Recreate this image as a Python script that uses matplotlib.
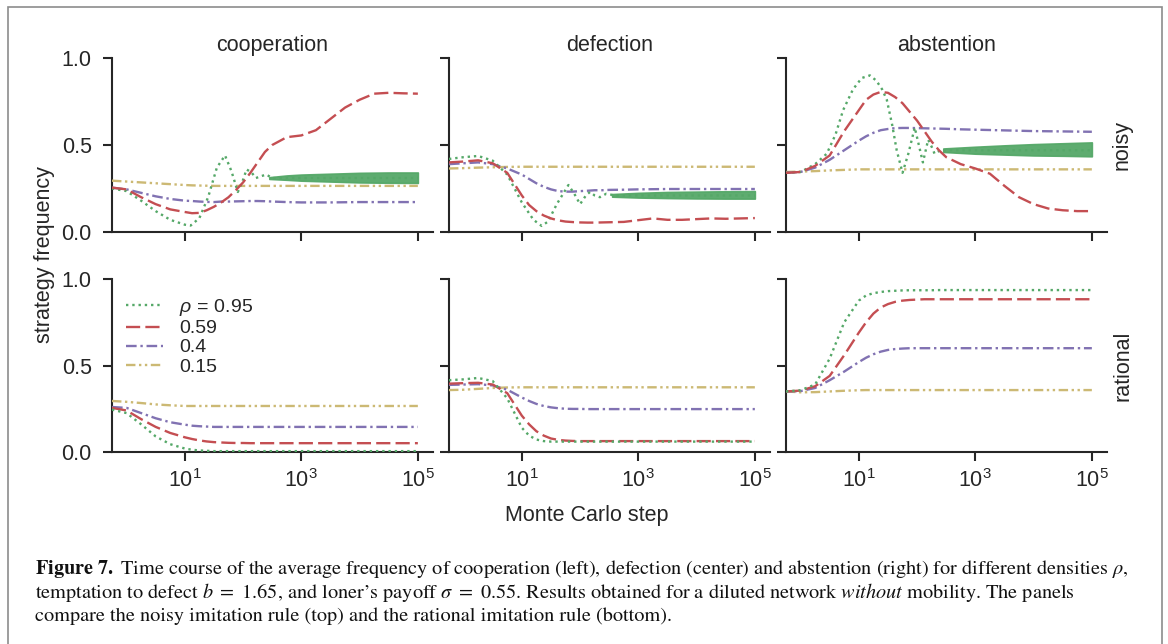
import numpy as np
import matplotlib
matplotlib.use("Agg")
import matplotlib.pyplot as plt
from matplotlib.patches import Rectangle
from matplotlib.ticker import FixedLocator, NullLocator, FuncFormatter

plt.rcParams['font.family'] = ['Liberation Sans', 'DejaVu Sans']
plt.rcParams['mathtext.fontset'] = 'custom'
plt.rcParams['mathtext.rm'] = 'Liberation Sans'
plt.rcParams['mathtext.it'] = 'Liberation Sans:italic'
plt.rcParams['mathtext.bf'] = 'Liberation Sans:bold'

# ---------------- data ----------------
strategies = ['cooperation', 'defection', 'abstention']
rules = ['noisy', 'rational']
legend_labels = [r'$\rho\,=\,0.95$', '0.59', '0.4', '0.15']
x_ticks = [1e1, 1e3, 1e5]
y_ticks = [0.0, 0.5, 1.0]

# common grid of Monte Carlo steps (log10 exponents)
log_step_grid = [-0.25, 0, 0.25, 0.5, 0.75, 1.0, 1.125, 1.25, 1.375, 1.5, 1.625, 1.75,
                 1.875, 2.0, 2.125, 2.25, 2.375, 2.5, 2.75, 3.0, 3.25, 3.5, 3.75, 4.0,
                 4.25, 4.5, 4.75, 5.0]

# ---- noisy imitation ----
coop_noisy_059 = [0.255, 0.245, 0.20, 0.16, 0.13, 0.115, 0.108, 0.11, 0.125, 0.145, 0.17, 0.20,
                  0.24, 0.285, 0.34, 0.40, 0.46, 0.50, 0.545, 0.555, 0.585, 0.65, 0.715, 0.76,
                  0.795, 0.80, 0.797, 0.795]
coop_noisy_040 = [0.255, 0.245, 0.225, 0.205, 0.19, 0.18, 0.178, 0.175, 0.173, 0.172, 0.175, 0.175,
                  0.176, 0.177, 0.178, 0.178, 0.177, 0.175, 0.172, 0.17, 0.17, 0.17, 0.171, 0.172,
                  0.172, 0.172, 0.172, 0.172]
coop_noisy_015 = [0.295, 0.29, 0.285, 0.28, 0.275, 0.27, 0.268, 0.267, 0.266, 0.265, 0.265, 0.265,
                  0.265, 0.265, 0.265, 0.265, 0.265, 0.265, 0.265, 0.265, 0.265, 0.265, 0.265, 0.265,
                  0.265, 0.265, 0.265, 0.265]
coop_noisy_095_log = [-0.25, 0, 0.25, 0.5, 0.75, 1.0, 1.1, 1.25, 1.4, 1.55, 1.69, 1.8, 1.91, 2.0,
                      2.06, 2.15, 2.22, 2.3, 2.4, 2.5, 3.0, 4.0, 5.0]
coop_noisy_095 = [0.25, 0.235, 0.18, 0.12, 0.07, 0.042, 0.037, 0.08, 0.20, 0.37, 0.44, 0.35, 0.23,
                  0.30, 0.36, 0.34, 0.31, 0.32, 0.33, 0.31, 0.31, 0.31, 0.31]
coop_noisy_095_band_log = [2.45, 2.75, 3.0, 3.5, 4.0, 4.5, 5.0]
coop_noisy_095_band_lo = [0.305, 0.30, 0.295, 0.29, 0.285, 0.283, 0.282]
coop_noisy_095_band_hi = [0.315, 0.325, 0.33, 0.335, 0.34, 0.342, 0.342]

defe_noisy_059 = [0.40, 0.405, 0.412, 0.395, 0.34, 0.21, 0.155, 0.12, 0.095, 0.078, 0.067, 0.06,
                  0.057, 0.055, 0.054, 0.054, 0.055, 0.056, 0.058, 0.068, 0.078, 0.07, 0.07, 0.074,
                  0.078, 0.076, 0.078, 0.08]
defe_noisy_040 = [0.39, 0.395, 0.40, 0.39, 0.365, 0.33, 0.305, 0.28, 0.26, 0.245, 0.235, 0.232,
                  0.232, 0.235, 0.237, 0.24, 0.24, 0.242, 0.243, 0.245, 0.246, 0.247, 0.247, 0.247,
                  0.247, 0.247, 0.247, 0.247]
defe_noisy_015 = [0.365, 0.367, 0.37, 0.372, 0.374, 0.375, 0.375, 0.375, 0.375, 0.375, 0.375, 0.375,
                  0.375, 0.375, 0.375, 0.375, 0.375, 0.375, 0.375, 0.375, 0.375, 0.375, 0.375, 0.375,
                  0.375, 0.375, 0.375, 0.375]
defe_noisy_095_log = [-0.25, 0, 0.25, 0.5, 0.75, 1.0, 1.2, 1.34, 1.45, 1.6, 1.8, 1.9, 2.0, 2.1,
                      2.17, 2.25, 2.34, 2.45, 2.6, 3.0, 4.0, 5.0]
defe_noisy_095 = [0.42, 0.43, 0.437, 0.41, 0.33, 0.17, 0.07, 0.035, 0.06, 0.16, 0.27, 0.22, 0.16,
                  0.21, 0.23, 0.21, 0.20, 0.22, 0.21, 0.21, 0.21, 0.21]
defe_noisy_095_band_log = [2.55, 3.0, 3.5, 4.0, 4.5, 5.0]
defe_noisy_095_band_lo = [0.203, 0.198, 0.195, 0.193, 0.192, 0.192]
defe_noisy_095_band_hi = [0.218, 0.225, 0.23, 0.232, 0.234, 0.235]

abst_noisy_059 = [0.34, 0.345, 0.38, 0.44, 0.58, 0.70, 0.76, 0.79, 0.805, 0.80, 0.775, 0.74,
                  0.69, 0.64, 0.58, 0.52, 0.47, 0.43, 0.39, 0.365, 0.335, 0.265, 0.20, 0.16,
                  0.135, 0.125, 0.12, 0.12]
abst_noisy_040 = [0.34, 0.345, 0.37, 0.415, 0.47, 0.525, 0.55, 0.57, 0.585, 0.592, 0.597, 0.598,
                  0.598, 0.597, 0.596, 0.595, 0.594, 0.593, 0.59, 0.588, 0.586, 0.584, 0.582, 0.58,
                  0.579, 0.578, 0.577, 0.576]
abst_noisy_015 = [0.345, 0.347, 0.35, 0.354, 0.357, 0.36, 0.36, 0.36, 0.36, 0.36, 0.36, 0.36,
                  0.36, 0.36, 0.36, 0.36, 0.36, 0.36, 0.36, 0.36, 0.36, 0.36, 0.36, 0.36,
                  0.36, 0.36, 0.36, 0.36]
abst_noisy_095_log = [-0.25, 0, 0.25, 0.45, 0.6, 0.73, 0.9, 1.05, 1.19, 1.3, 1.4, 1.48, 1.57, 1.65,
                      1.75, 1.85, 1.96, 2.03, 2.1, 2.19, 2.25, 2.3, 2.4, 2.5, 3.0, 4.0, 5.0]
abst_noisy_095 = [0.34, 0.345, 0.39, 0.45, 0.56, 0.70, 0.82, 0.885, 0.90, 0.87, 0.82, 0.76, 0.62,
                  0.47, 0.34, 0.45, 0.60, 0.50, 0.40, 0.53, 0.49, 0.45, 0.47, 0.47, 0.47, 0.47, 0.47]
abst_noisy_095_band_log = [2.45, 3.0, 3.5, 4.0, 4.5, 5.0]
abst_noisy_095_band_lo = [0.46, 0.45, 0.445, 0.44, 0.438, 0.435]
abst_noisy_095_band_hi = [0.48, 0.49, 0.498, 0.505, 0.51, 0.515]

# ---- rational imitation ----
coop_rat_095 = [0.245, 0.225, 0.16, 0.09, 0.045, 0.02, 0.013, 0.009, 0.007, 0.005, 0.005, 0.005,
                0.005, 0.005, 0.005, 0.005, 0.005, 0.005, 0.005, 0.005, 0.005, 0.005, 0.005, 0.005,
                0.005, 0.005, 0.005, 0.005]
coop_rat_059 = [0.255, 0.24, 0.19, 0.145, 0.11, 0.085, 0.075, 0.067, 0.061, 0.057, 0.055, 0.053,
                0.052, 0.052, 0.051, 0.051, 0.051, 0.051, 0.051, 0.051, 0.051, 0.051, 0.051, 0.051,
                0.051, 0.051, 0.051, 0.051]
coop_rat_040 = [0.26, 0.255, 0.225, 0.195, 0.172, 0.158, 0.152, 0.149, 0.147, 0.145, 0.145, 0.145,
                0.145, 0.145, 0.145, 0.145, 0.145, 0.145, 0.145, 0.145, 0.145, 0.145, 0.145, 0.145,
                0.145, 0.145, 0.145, 0.145]
coop_rat_015 = [0.295, 0.29, 0.283, 0.275, 0.27, 0.266, 0.266, 0.266, 0.266, 0.266, 0.266, 0.266,
                0.266, 0.266, 0.266, 0.266, 0.266, 0.266, 0.266, 0.266, 0.266, 0.266, 0.266, 0.266,
                0.266, 0.266, 0.266, 0.266]

defe_rat_095 = [0.415, 0.42, 0.428, 0.41, 0.31, 0.14, 0.095, 0.072, 0.063, 0.06, 0.06, 0.06,
                0.06, 0.06, 0.06, 0.06, 0.06, 0.06, 0.06, 0.06, 0.06, 0.06, 0.06, 0.06,
                0.06, 0.06, 0.06, 0.06]
defe_rat_059 = [0.395, 0.398, 0.40, 0.39, 0.34, 0.21, 0.16, 0.12, 0.095, 0.078, 0.07, 0.066,
                0.064, 0.063, 0.063, 0.063, 0.063, 0.063, 0.063, 0.063, 0.063, 0.063, 0.063, 0.063,
                0.063, 0.063, 0.063, 0.063]
defe_rat_040 = [0.388, 0.39, 0.392, 0.385, 0.36, 0.315, 0.295, 0.278, 0.266, 0.258, 0.253, 0.25,
                0.249, 0.249, 0.248, 0.248, 0.248, 0.248, 0.248, 0.248, 0.248, 0.248, 0.248, 0.248,
                0.248, 0.248, 0.248, 0.248]
defe_rat_015 = [0.358, 0.36, 0.365, 0.37, 0.373, 0.374, 0.374, 0.374, 0.374, 0.374, 0.374, 0.374,
                0.374, 0.374, 0.374, 0.374, 0.374, 0.374, 0.374, 0.374, 0.374, 0.374, 0.374, 0.374,
                0.374, 0.374, 0.374, 0.374]

abst_rat_095 = [0.35, 0.357, 0.39, 0.54, 0.75, 0.875, 0.905, 0.918, 0.925, 0.93, 0.932, 0.934,
                0.935, 0.935, 0.935, 0.935, 0.936, 0.936, 0.936, 0.936, 0.936, 0.936, 0.936, 0.936,
                0.936, 0.936, 0.936, 0.936]
abst_rat_059 = [0.35, 0.355, 0.38, 0.44, 0.56, 0.69, 0.75, 0.80, 0.835, 0.855, 0.868, 0.875,
                0.879, 0.881, 0.883, 0.883, 0.883, 0.883, 0.883, 0.883, 0.883, 0.883, 0.883, 0.883,
                0.883, 0.883, 0.883, 0.883]
abst_rat_040 = [0.35, 0.352, 0.37, 0.415, 0.465, 0.52, 0.545, 0.565, 0.58, 0.59, 0.595, 0.598,
                0.60, 0.60, 0.60, 0.60, 0.60, 0.60, 0.60, 0.60, 0.60, 0.60, 0.60, 0.60,
                0.60, 0.60, 0.60, 0.60]
abst_rat_015 = [0.35, 0.345, 0.346, 0.35, 0.354, 0.357, 0.358, 0.358, 0.358, 0.358, 0.358, 0.358,
                0.358, 0.358, 0.358, 0.358, 0.358, 0.358, 0.358, 0.358, 0.358, 0.358, 0.358, 0.358,
                0.358, 0.358, 0.358, 0.358]

caption_lines = [
    r"$\mathbf{Figure\ 7.}$ Time course of the average frequency of cooperation (left), defection (center) and abstention (right) for different densities $\rho$,",
    r"temptation to defect $b\ =\ 1.65$, and loner’s payoff $\sigma\ =\ 0.55$. Results obtained for a diluted network $\mathit{without}$ mobility. The panels",
    r"compare the noisy imitation rule (top) and the rational imitation rule (bottom).",
]

# ---------------- styles ----------------
colors = ['#55A868', '#C44E52', '#8172B2', '#CCB974']
dashes = [(1, 1.65), (6.0, 2.2), (4.5, 1.6, 1.0, 1.6), (4.0, 1.5, 1.0, 1.5, 1.0, 1.5)]
LW = 1.7
SPINE = '#262626'

W, H = 1168, 644
fig = plt.figure(figsize=(W / 100, H / 100), dpi=100)

# frame around the figure
fig.patches.append(Rectangle((8 / W, -0.01), (1162 - 8) / W, 1 - 7 / H + 0.01,
                             transform=fig.transFigure, fill=False,
                             edgecolor='#8c8c8c', linewidth=1.2))

col_left = [112, 449, 786]
col_width = 321
row_top = [58, 279]
row_height = [174, 173]

steps = 10.0 ** np.array(log_step_grid)

noisy_sets = [
    (coop_noisy_095_log, coop_noisy_095, coop_noisy_095_band_log, coop_noisy_095_band_lo, coop_noisy_095_band_hi,
     [coop_noisy_059, coop_noisy_040, coop_noisy_015]),
    (defe_noisy_095_log, defe_noisy_095, defe_noisy_095_band_log, defe_noisy_095_band_lo, defe_noisy_095_band_hi,
     [defe_noisy_059, defe_noisy_040, defe_noisy_015]),
    (abst_noisy_095_log, abst_noisy_095, abst_noisy_095_band_log, abst_noisy_095_band_lo, abst_noisy_095_band_hi,
     [abst_noisy_059, abst_noisy_040, abst_noisy_015]),
]
rational_sets = [
    [coop_rat_095, coop_rat_059, coop_rat_040, coop_rat_015],
    [defe_rat_095, defe_rat_059, defe_rat_040, defe_rat_015],
    [abst_rat_095, abst_rat_059, abst_rat_040, abst_rat_015],
]

axes = [[None] * 3 for _ in range(2)]
for r in range(2):
    for c in range(3):
        ax = fig.add_axes([col_left[c] / W, 1 - (row_top[r] + row_height[r]) / H,
                           col_width / W, row_height[r] / H])
        axes[r][c] = ax
        ax.set_xscale('log')
        ax.set_xlim(10 ** -0.25, 10 ** 5.26)
        ax.set_ylim(0, 1)
        for s in ['top', 'right']:
            ax.spines[s].set_visible(False)
        for s in ['left', 'bottom']:
            ax.spines[s].set_linewidth(1.5)
            ax.spines[s].set_color(SPINE)
        ax.xaxis.set_major_locator(FixedLocator(x_ticks))
        ax.xaxis.set_minor_locator(NullLocator())
        ax.yaxis.set_major_locator(FixedLocator(y_ticks))
        ax.tick_params(direction='out', length=6.5, width=1.5, color=SPINE,
                       labelsize=15.5, labelcolor='#262626')
        ax.tick_params(axis='y', pad=8)
        ax.tick_params(axis='x', pad=6)
        ax.xaxis.set_major_formatter(FuncFormatter(lambda v, p: r'$10^{%d}$' % int(round(np.log10(v)))))
        ax.yaxis.set_major_formatter(FuncFormatter(lambda v, p: '%.1f' % v))
        if r == 0:
            ax.tick_params(axis='x', labelbottom=False)
            ax.set_title(strategies[c], fontsize=15.5, color='#262626', pad=5)
        if c > 0:
            ax.tick_params(axis='y', labelleft=False)
        ax.patch.set_alpha(0)

# noisy row
for c in range(3):
    ax = axes[0][c]
    g_log, g_val, b_log, b_lo, b_hi, others = noisy_sets[c]
    ax.fill_between(10.0 ** np.array(b_log), b_lo, b_hi, color=colors[0], linewidth=1.2,
                    edgecolor=colors[0], alpha=0.95, zorder=2)
    ax.plot(10.0 ** np.array(g_log), g_val, color=colors[0], lw=LW, dashes=dashes[0], zorder=3)
    for k, vals in enumerate(others):
        ax.plot(steps, vals, color=colors[k + 1], lw=LW, dashes=dashes[k + 1], zorder=3 - 0.1 * k)

# rational row
for c in range(3):
    ax = axes[1][c]
    for k, vals in enumerate(rational_sets[c]):
        ax.plot(steps, vals, color=colors[k], lw=LW, dashes=dashes[k], label=legend_labels[k],
                zorder=3 - 0.1 * k)

leg = axes[1][0].legend(loc='upper left', bbox_to_anchor=(0.045, 0.895), frameon=False,
                        fontsize=14, handlelength=1.9, handletextpad=0.8,
                        labelspacing=0.08, borderaxespad=0, borderpad=0)
for t in leg.get_texts():
    t.set_color('#262626')

# row labels on the right
fig.text(1122 / W, 1 - 145 / H, rules[0], rotation=90, ha='center', va='center',
         fontsize=15.5, color='#262626')
fig.text(1123 / W, 1 - 366 / H, rules[1], rotation=90, ha='center', va='center',
         fontsize=15.5, color='#262626')

# shared axis labels
fig.text(45 / W, 1 - 255 / H, 'strategy frequency', rotation=90, ha='center', va='center',
         fontsize=15.5, color='#262626')
fig.text(587 / W, 1 - 515 / H, 'Monte Carlo step', ha='center', va='center',
         fontsize=15.5, color='#262626')

# caption
cap_y = [569, 592, 616]
cap_texts = []
for line, y in zip(caption_lines, cap_y):
    t = fig.text(35 / W, 1 - y / H, line, ha='left', va='center', fontsize=12.5,
                 family='STIXGeneral', math_fontfamily='stix', color='#111111')
    cap_texts.append(t)
fig.canvas.draw()
w0 = cap_texts[0].get_window_extent().width
scale = (1131 - 35) / w0
for t in cap_texts:
    t.set_fontsize(12.5 * scale)

fig.savefig('out.png', dpi=100)
